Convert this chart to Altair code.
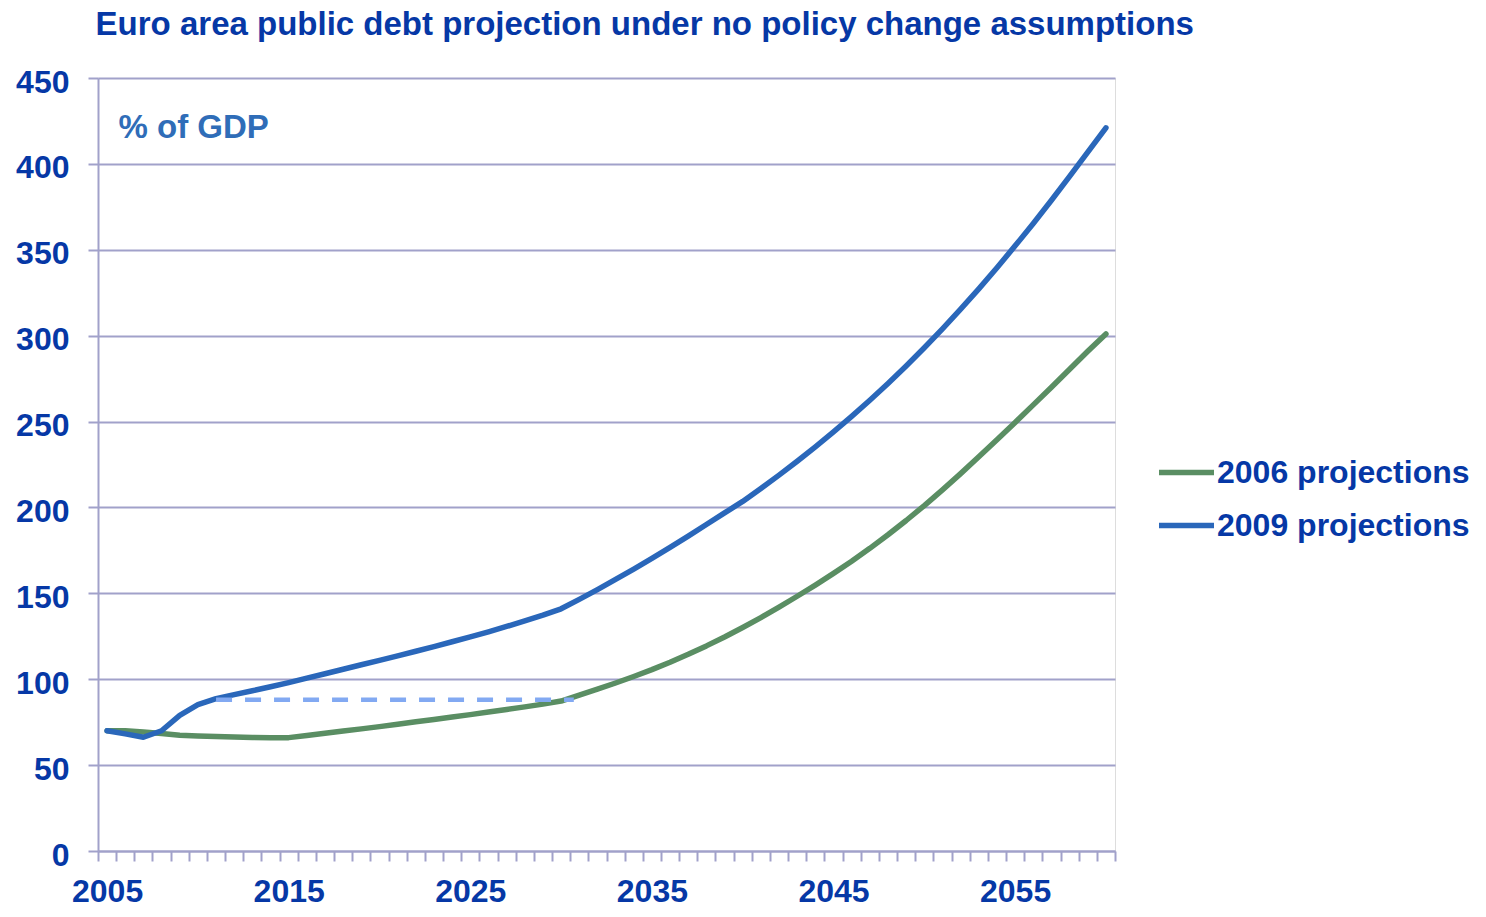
import altair as alt
import pandas as pd

# ---- data ----
years = list(range(2005, 2061))

proj_2006 = [
    70.0, 70.0, 69.3, 68.4, 67.4, 67.0, 66.6, 66.4, 66.1, 66.0,
    66.0, 67.2, 68.5, 69.8, 71.1, 72.4, 73.8, 75.2, 76.6, 78.0,
    79.4, 80.9, 82.4, 83.9, 85.5, 87.3, 90.8, 94.2, 97.8, 101.6,
    105.6, 109.9, 114.5, 119.4, 124.6, 130.1, 135.9, 142.0, 148.3, 154.8,
    161.6, 168.7, 176.2, 184.1, 192.4, 201.1, 210.2, 219.7, 229.5, 239.4,
    249.5, 259.7, 270.0, 280.4, 290.9, 301.0,
]

proj_2009 = [
    70.0, 68.2, 66.2, 70.0, 79.0, 85.2, 88.7, 91.0, 93.3, 95.6,
    98.0, 100.6, 103.2, 105.8, 108.4, 111.0, 113.6, 116.3, 119.0, 121.8,
    124.6, 127.6, 130.7, 133.9, 137.3, 141.0, 146.5, 152.2, 158.1, 164.1,
    170.3, 176.7, 183.3, 190.1, 196.8, 203.5, 211.0, 218.8, 226.9, 235.3,
    244.0, 253.0, 262.4, 272.2, 282.4, 293.0, 304.0, 315.4, 327.2, 339.5,
    352.3, 365.3, 378.8, 392.7, 406.8, 421.0,
]

series_names = ["2006 projections", "2009 projections"]

dashed_years = [2011, 2030.7]
dashed_values = [88.0, 88.0]

x_label_years = [2005, 2015, 2025, 2035, 2045, 2055]
x_tick_bounds = [y - 0.5 for y in years] + [years[-1] + 0.5]
y_ticks = list(range(0, 451, 50))

# ---- styling ----
FONT = "Liberation Sans, Arial, sans-serif"
DARK_BLUE = "#0638A6"
GDP_BLUE = "#2F6DB8"
GREEN = "#5A8E63"
BLUE = "#2A67BA"
DASH_BLUE = "#82A9F2"
GRID = "#A1A1CA"

df = pd.DataFrame({
    "year": years * 2,
    "value": proj_2006 + proj_2009,
    "series": [series_names[0]] * len(years) + [series_names[1]] * len(years),
})
df_dash = pd.DataFrame({"year": dashed_years, "value": dashed_values})

x_scale = alt.Scale(domain=[years[0] - 0.5, years[-1] + 0.5], nice=False, zero=False)
y_scale = alt.Scale(domain=[0, 450], nice=False)

y_axis = alt.Axis(
    values=y_ticks, grid=True, gridColor=GRID, gridWidth=2,
    domain=True, domainColor=GRID, domainWidth=2,
    ticks=True, tickColor=GRID, tickWidth=2, tickSize=10,
    labelFont=FONT, labelFontSize=32, labelFontWeight="bold", labelColor=DARK_BLUE,
    labelPadding=19, labelOffset=4,
    title="% of GDP", titleAngle=0, titleX=20, titleY=59,
    titleAlign="left", titleBaseline="alphabetic",
    titleFont=FONT, titleFontSize=33, titleFontWeight="bold", titleColor=GDP_BLUE,
)

x_axis_ticks = alt.Axis(
    orient="bottom", values=x_tick_bounds, labels=False, grid=False,
    domain=True, domainColor=GRID, domainWidth=2,
    ticks=True, tickColor=GRID, tickWidth=2, tickSize=10, title=None,
)

x_axis_labels = alt.Axis(
    orient="bottom", values=x_label_years, grid=False, domain=False,
    ticks=False, tickSize=0, labelPadding=25, format="d",
    labelFont=FONT, labelFontSize=32, labelFontWeight="bold", labelColor=DARK_BLUE,
    title=None, labelFlush=False,
)

lines = alt.Chart(df).mark_line(strokeWidth=5.5, strokeCap="round", strokeJoin="round").encode(
    x=alt.X("year:Q", scale=x_scale, axis=x_axis_ticks),
    y=alt.Y("value:Q", scale=y_scale, axis=y_axis),
    color=alt.Color(
        "series:N",
        scale=alt.Scale(domain=series_names, range=[GREEN, BLUE]),
        legend=alt.Legend(
            title=None, orient="none", legendX=1058, legendY=364,
            symbolType="stroke", symbolSize=3025, symbolStrokeWidth=5.5,
            labelFont=FONT, labelFontSize=32, labelFontWeight="bold",
            labelColor=DARK_BLUE, labelOffset=0, rowPadding=6, padding=0,
            labelLimit=400,
        ),
    ),
)

dashed = alt.Chart(df_dash).mark_line(
    strokeWidth=4.5, strokeDash=[16, 13], color=DASH_BLUE
).encode(
    x=alt.X("year:Q", scale=x_scale, axis=x_axis_labels),
    y=alt.Y("value:Q", scale=y_scale, axis=y_axis),
)

chart = alt.layer(lines, dashed).resolve_axis(x="independent").properties(
    width=1017,
    height=773,
    autosize=alt.AutoSizeParams(type="none"),
    padding={"left": 90, "top": 70, "right": 363, "bottom": 54},
    title=alt.TitleParams(
        text="Euro area public debt projection under no policy change assumptions",
        anchor="start", font=FONT, fontSize=33, fontWeight="bold",
        color=DARK_BLUE, dx=80, offset=24,
    ),
).configure_view(stroke=None).configure(background="white")

chart.save("out.html", embed_options={"renderer": "svg", "actions": False})
